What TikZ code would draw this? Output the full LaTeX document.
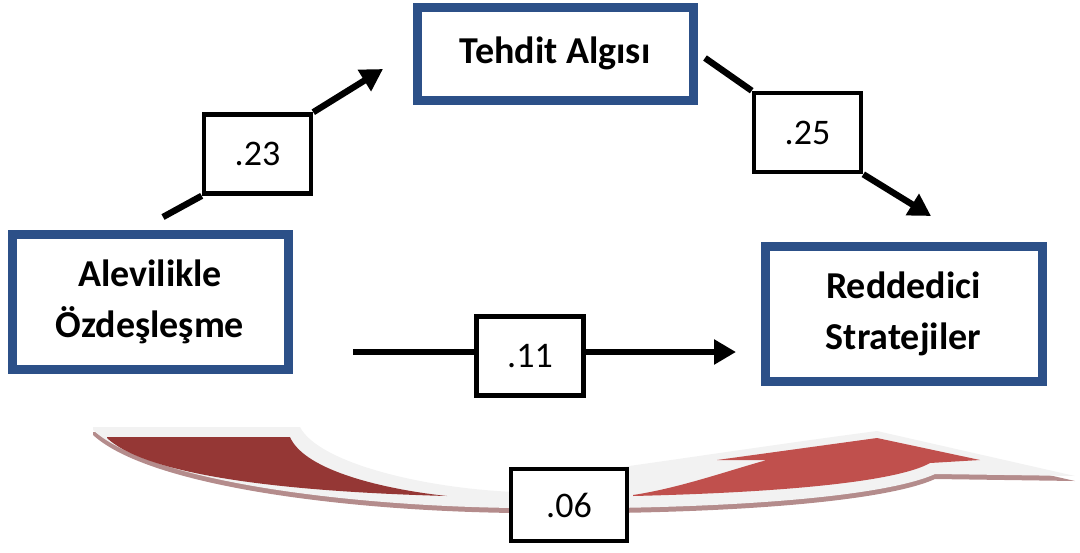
\documentclass[tikz,border=0pt]{standalone}
\usepackage{fontspec}
\setmainfont{Carlito}
\usetikzlibrary{arrows.meta,calc}
\definecolor{boxblue}{RGB}{44,80,136}
\definecolor{darkred}{RGB}{149,55,53}
\definecolor{lightred}{RGB}{192,80,77}
\definecolor{bandgrey}{RGB}{242,242,242}
\definecolor{shadowpink}{RGB}{180,140,140}
\tikzset{
  mainbox/.style={draw=boxblue, line width=4.5pt, fill=white, align=center,
    font=\fontsize{19}{25.5}\selectfont\bfseries, inner sep=0pt},
  valbox/.style={draw=black, line width=2.3pt, fill=white, align=center,
    font=\fontsize{18}{21}\selectfont, inner sep=0pt,
    minimum width=53.5pt, minimum height=39.5pt},
  conn/.style={line width=3.2pt, draw=black},
  arr/.style={conn, -{Triangle[length=11pt,width=12pt]}},
}
\begin{document}
\begin{tikzpicture}[x=0.5pt,y=-0.5pt]
\useasboundingbox (0,0) rectangle (1080,552);
% big curved red arrow
\begin{scope}[yshift=-5*0.5pt]
\fill[shadowpink] (93,427) -- (300,427) .. controls (318,462) and (420,488) .. (515,492)
  -- (615,468) .. controls (700,456) and (800,441) .. (877,431) -- (1075,476) -- (935,474)
  .. controls (900,490) and (800,505) .. (615,508) -- (515,508)
  .. controls (350,506) and (150,482) .. (93,430) -- cycle;
\end{scope}
\fill[bandgrey] (93,427) -- (300,427) .. controls (318,462) and (420,488) .. (515,492)
  -- (615,468) .. controls (700,456) and (800,441) .. (877,431) -- (1075,476) -- (935,474)
  .. controls (900,490) and (800,505) .. (615,508) -- (515,508)
  .. controls (350,506) and (150,482) .. (93,430) -- cycle;
\fill[darkred] (107,437) -- (290,437) .. controls (305,472) and (390,490) .. (447,496)
  .. controls (300,492) and (150,478) .. (107,438) -- cycle;
\fill[lightred] (633,495) .. controls (680,488) and (730,470) .. (767,460) -- (717,460)
  -- (877,438) -- (980,460) -- (930,463) .. controls (900,480) and (800,492) .. (633,496) -- cycle;

% main boxes
\node[mainbox, minimum width=138pt, minimum height=46.5pt] (ta) at (555,53.5) {Tehdit Algısı};
\node[mainbox, minimum width=138pt, minimum height=67.5pt] (ao) at (150,302) {Alevilikle\\Özdeşleşme};
\node[mainbox, minimum width=138.5pt, minimum height=67.5pt] (rs) at (903.5,314) {Reddedici\\Stratejiler};

% value boxes
\node[valbox] (v23) at (257.5,154) {.23};
\node[valbox] (v25) at (807.5,132.5) {.25};
\node[valbox] (v11) at (530,356) {.11};
\node[valbox, minimum width=58pt, minimum height=36pt] (v06) at (569,505) {.06};

% free ends
\coordinate (s23) at (163,217);
\coordinate (e23) at (383,69);
\coordinate (s25) at (705,58);
\coordinate (e25) at (931,216);
\coordinate (s11) at (353,352);
\coordinate (e11) at (736,352);

\draw[conn] (s23) -- (v23.south west);
\draw[arr] (v23.north east) -- (e23);
\draw[conn] (s25) -- (v25.north west);
\draw[arr] (v25.south east) -- (e25);
\draw[conn] (s11) -- (s11 -| v11.west);
\draw[arr] (e11 -| v11.east) -- (e11);
\end{tikzpicture}
\end{document}
